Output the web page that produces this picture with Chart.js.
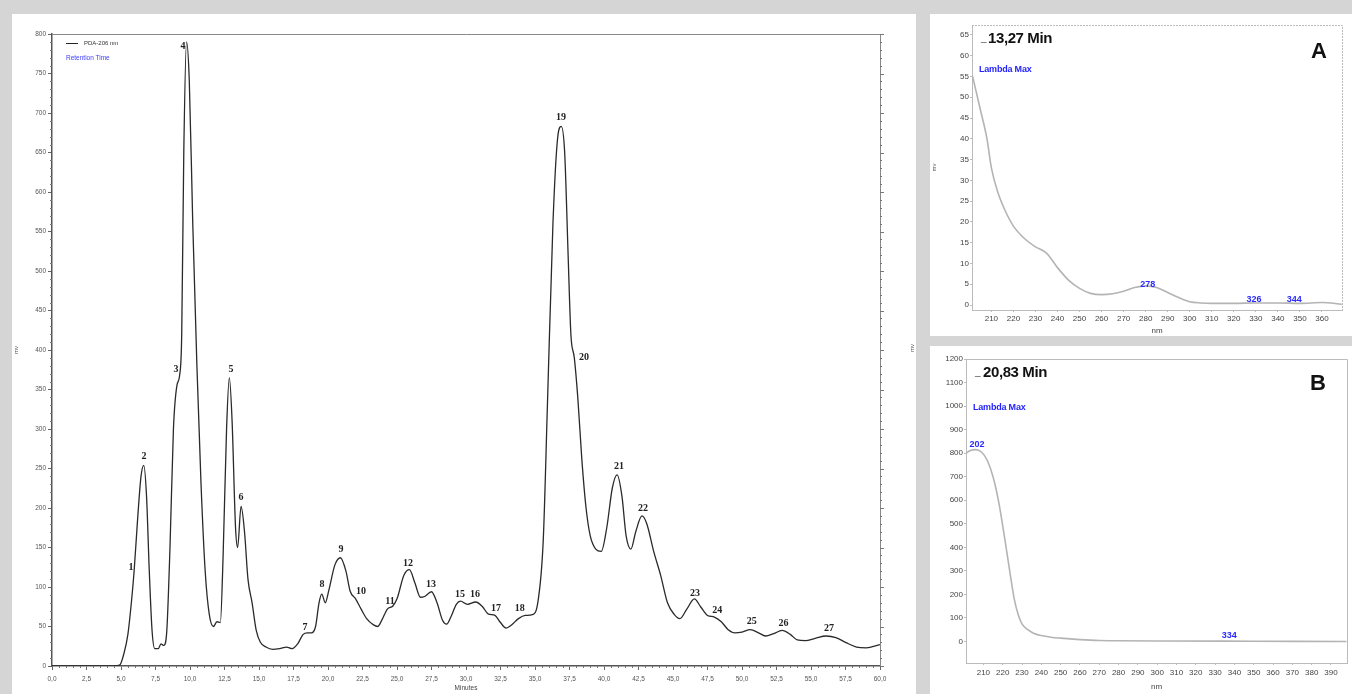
<!DOCTYPE html>
<html>
<head>
<meta charset="utf-8">
<script src="https://cdn.jsdelivr.net/npm/chart.js@4.4.0/dist/chart.umd.min.js"></script>
<style>
  body { margin: 0; width: 1352px; height: 694px; background: #d5d5d5; position: relative; overflow: hidden; font-family: "Liberation Sans", Arial, sans-serif; }
  .panel { position: absolute; background: #fff; }
  #pMain { left: 12px; top: 14px; width: 904px; height: 680px; }
  #pA { left: 930px; top: 14px; width: 422px; height: 322px; }
  #pB { left: 930px; top: 346px; width: 422px; height: 348px; }
  .panel canvas { position: absolute; left: 0; top: 0; }
  .t { position: absolute; white-space: nowrap; line-height: 1; }
  .time { font-weight: bold; font-size: 15px; letter-spacing: -0.4px; color: #111; }
  .lam { font-weight: bold; font-size: 9px; color: #2424ff; letter-spacing: -0.2px; }
  .big { font-weight: bold; font-size: 22px; color: #111; }
</style>
</head>
<body>
<div class="panel" id="pMain"><canvas id="main" width="904" height="680"></canvas></div>
<div class="panel" id="pA"><canvas id="specA" width="422" height="322"></canvas></div>
<div class="panel" id="pB"><canvas id="specB" width="422" height="348"></canvas></div>

<!-- legend of the chromatogram -->
<div class="t" style="left:66px;top:43px;width:12px;height:1px;background:#222"></div>
<div class="t" style="left:84px;top:40px;font-size:6px;color:#333">PDA-206 nm</div>
<div class="t" style="left:66px;top:55px;font-size:6.5px;color:#3c3cff">Retention Time</div>
<div class="t" style="left:908px;top:345px;font-size:6px;color:#555;transform:rotate(-90deg)">mv</div>

<!-- spectrum headers -->
<div class="t" style="left:981px;top:33px;font-size:10px;color:#555">_</div>
<div class="t time" style="left:988px;top:30px">13,27 Min</div>
<div class="t lam" style="left:979px;top:65px">Lambda Max</div>
<div class="t big" style="left:1311px;top:40px">A</div>

<div class="t" style="left:975px;top:367px;font-size:10px;color:#555">_</div>
<div class="t time" style="left:983px;top:364px">20,83 Min</div>
<div class="t lam" style="left:973px;top:403px">Lambda Max</div>
<div class="t big" style="left:1310px;top:372px">B</div>

<script>
// chromatogram, PDA 206 nm
const minutes = [0, 4.5, 4.9, 5.2, 5.5, 5.75, 5.95, 6.2, 6.45, 6.65, 6.85, 7.05, 7.25, 7.45, 7.7, 7.9, 8.1,
  8.3, 8.55, 8.8, 9.05, 9.25, 9.4, 9.55, 9.75, 9.95, 10.2, 10.5, 10.8, 11.1, 11.4, 11.7, 11.95, 12.2,
  12.4, 12.65, 12.85, 13.05, 13.3, 13.45, 13.7, 13.95, 14.2, 14.5, 14.8, 15.1, 15.5, 16.0, 16.5, 17.0,
  17.4, 17.8, 18.2, 18.5, 18.8, 19.1, 19.35, 19.55, 19.8, 20.05, 20.5, 20.9, 21.3, 21.6, 22.0, 22.4,
  22.8, 23.3, 23.6, 23.9, 24.3, 24.7, 25.0, 25.5, 25.9, 26.3, 26.7, 27.0, 27.5, 27.9, 28.3, 28.6, 28.9,
  29.3, 29.6, 30.1, 30.7, 31.2, 31.6, 32.1, 32.5, 32.9, 33.3, 33.8, 34.3, 34.8, 35.2, 35.6, 35.9, 36.3,
  36.65, 36.9, 37.15, 37.4, 37.6, 37.85, 38.1, 38.4, 38.7, 39.0, 39.4, 39.8, 40.2, 40.6, 40.95, 41.3,
  41.6, 41.95, 42.3, 42.75, 43.1, 43.6, 44.1, 44.6, 45.1, 45.5, 46.0, 46.55, 47.0, 47.5, 48.0, 48.5,
  49.0, 49.5, 50.0, 50.6, 51.2, 51.7, 52.3, 52.9, 53.5, 54.0, 54.6, 55.3, 56.1, 56.8, 57.5, 58.3, 59.0, 60];
const signal = [0, 0, 1, 15, 40, 80, 120, 185, 240, 254, 215, 120, 45, 22, 22, 28, 26,
  40, 150, 300, 355, 368, 420, 650, 790, 740, 560, 380, 230, 120, 65, 50, 56, 55,
  140, 300, 365, 310, 175, 150, 202, 170, 110, 80, 45, 30, 24, 21, 22, 24,
  22, 28, 40, 42, 42, 50, 80, 91, 80, 95, 128, 137, 120, 95, 85, 72,
  60, 52, 50, 58, 72, 76, 85, 115, 122, 105, 87, 88, 94, 80, 58, 53, 62,
  78, 82, 78, 81, 75, 66, 64, 55, 48, 52, 60, 64, 65, 80, 160, 330, 560,
  670, 683, 650, 520, 420, 390, 340, 260, 200, 165, 148, 145, 175, 225, 242, 215,
  165, 148, 170, 190, 180, 145, 115, 80, 65, 60, 72, 85, 75, 64, 62, 56,
  46, 42, 43, 46, 42, 38, 41, 45, 40, 33, 32, 35, 38, 36, 30, 24, 23, 27];

// peak numbers, placed at (minutes, mv)
const peakNames = ['1', '2', '3', '4', '5', '6', '7', '8', '9', '10', '11', '12', '13', '15', '16', '17', '18',
  '19', '20', '21', '22', '23', '24', '25', '26', '27'];
const peakT = [5.72, 6.67, 8.99, 9.49, 12.97, 13.7, 18.33, 19.57, 20.94, 22.39, 24.49, 25.8, 27.46, 29.57,
  30.65, 32.17, 33.9, 36.88, 38.55, 41.09, 42.83, 46.6, 48.2, 50.7, 53.0, 56.3];
const peakV = [125, 265, 375, 784, 375, 214, 49, 103, 148, 95, 82, 130, 103, 91, 90, 73, 73, 695, 391,
  252, 199, 92, 70, 56, 54, 48];

// UV spectrum A, 13,27 min
const nmA = [201.5, 205, 208, 210, 213, 216, 220, 225, 230, 235, 240, 245, 250, 255, 260, 265, 270, 275,
  280, 285, 290, 295, 300, 305, 310, 320, 330, 340, 350, 360, 369];
const mvA = [55, 47, 40, 33, 27, 23, 19, 16, 14, 12.5, 9, 6, 4, 2.8, 2.5, 2.7, 3.3, 4.2, 4.6, 4.2, 3, 1.8,
  0.8, 0.5, 0.4, 0.4, 0.5, 0.5, 0.4, 0.6, 0.2];
const lambdaA = ['278', '326', '344'];
const lambdaANm = [281, 329.2, 347.4];
const lambdaAMv = [5.05, 1.4, 1.4];
const nmTicksA = [210, 220, 230, 240, 250, 260, 270, 280, 290, 300, 310, 320, 330, 340, 350, 360];
const mvTicksA = [0, 5, 10, 15, 20, 25, 30, 35, 40, 45, 50, 55, 60, 65];

// UV spectrum B, 20,83 min
const nmB = [201, 203, 206, 209, 212, 215, 218, 221, 224, 226, 228, 230, 233, 236, 240, 245, 250, 260,
  270, 280, 300, 350, 398];
const mvB = [800, 810, 815, 805, 770, 700, 590, 440, 280, 180, 115, 75, 50, 35, 25, 18, 14, 8, 4, 3, 2, 1, 0];
const lambdaB = ['202', '334'];
const lambdaBNm = [206.7, 337.3];
const lambdaBMv = [837, 24];
const nmTicksB = [210, 220, 230, 240, 250, 260, 270, 280, 290, 300, 310, 320, 330, 340, 350, 360, 370, 380, 390];
const mvTicksB = [0, 100, 200, 300, 400, 500, 600, 700, 800, 900, 1000, 1100, 1200];

const toPts = (xs, ys) => xs.map((x, i) => ({ x, y: ys[i] }));

const textLabels = {
  id: 'textLabels',
  afterDatasetsDraw(chart, args, o) {
    const { ctx, scales: { x, y } } = chart;
    ctx.save();
    ctx.font = o.font;
    ctx.fillStyle = o.color;
    ctx.textAlign = 'center';
    ctx.textBaseline = 'middle';
    o.names.forEach((n, i) => ctx.fillText(n, x.getPixelForValue(o.xs[i]), y.getPixelForValue(o.ys[i])));
    ctx.restore();
  }
};

// frame + minor ticks of the chromatogram
const frame = {
  id: 'frame',
  afterDraw(chart, args, o) {
    const { ctx, chartArea: a, scales: { x, y } } = chart;
    ctx.save();
    ctx.strokeStyle = o.color;
    ctx.lineWidth = 1;
    if (o.dash) ctx.setLineDash(o.dash);
    ctx.beginPath();
    ctx.moveTo(a.left, a.top + 0.5); ctx.lineTo(a.right + 0.5, a.top + 0.5); ctx.lineTo(a.right + 0.5, a.bottom);
    ctx.stroke();
    ctx.setLineDash([]);
    if (o.minor) {
      ctx.strokeStyle = '#777';
      ctx.beginPath();
      for (let v = y.min; v <= y.max; v += 10) {
        const py = Math.round(y.getPixelForValue(v)) + 0.5;
        const major = v % 50 === 0;
        if (!major) { ctx.moveTo(a.left - 2, py); ctx.lineTo(a.left, py); }
        ctx.moveTo(a.right, py); ctx.lineTo(a.right + (major ? 4 : 2), py);
      }
      for (let t = x.min; t <= x.max; t += 0.5) {
        if (Math.abs(t / 2.5 - Math.round(t / 2.5)) < 1e-6) continue;
        const px = Math.round(x.getPixelForValue(t)) + 0.5;
        ctx.moveTo(px, a.bottom); ctx.lineTo(px, a.bottom + 2);
      }
      ctx.stroke();
    }
    ctx.restore();
  }
};

new Chart(document.getElementById('main'), {
  type: 'line',
  data: { datasets: [{ data: toPts(minutes, signal), borderColor: '#2a2a2a', borderWidth: 1.3, pointRadius: 0, cubicInterpolationMode: 'monotone' }] },
  options: {
    responsive: false, animation: false, events: [],
    layout: { padding: { top: 20, right: 36, left: 0, bottom: 0 } },
    plugins: {
      legend: { display: false }, tooltip: { enabled: false },
      textLabels: { names: peakNames, xs: peakT, ys: peakV, font: 'bold 10px "Liberation Serif", serif', color: '#222' },
      frame: { color: '#888', minor: true }
    },
    scales: {
      x: {
        type: 'linear', min: 0, max: 60,
        afterFit: (s) => { s.height = 28; },
        ticks: { stepSize: 2.5, padding: 5, maxRotation: 0, autoSkip: false, color: '#555', font: { size: 6.5 },
          callback: (v) => v.toFixed(1).replace('.', ',') },
        grid: { drawOnChartArea: false, tickLength: 4, color: '#666' },
        border: { color: '#555', width: 1.5 },
        title: { display: true, text: 'Minutes', color: '#444', font: { size: 6.5 }, padding: { top: 0, bottom: 2 } }
      },
      y: {
        min: 0, max: 800,
        afterFit: (s) => { s.width = 40; },
        ticks: { stepSize: 50, padding: 2, autoSkip: false, color: '#555', font: { size: 6.5 } },
        grid: { drawOnChartArea: false, tickLength: 4, color: '#666' },
        border: { color: '#555', width: 1.5 },
        title: { display: true, text: 'mv', color: '#555', font: { size: 6 }, padding: 1 }
      }
    }
  },
  plugins: [textLabels, frame]
});

function spectrum(id, nm, mv, names, lx, ly, xTicks, yTicks, cfg) {
  new Chart(document.getElementById(id), {
    type: 'line',
    data: { datasets: [{ data: toPts(nm, mv), borderColor: '#b4b4b4', borderWidth: 1.6, pointRadius: 0, cubicInterpolationMode: 'monotone' }] },
    options: {
      responsive: false, animation: false, events: [],
      layout: { padding: { top: cfg.top, right: cfg.right, left: 0, bottom: 0 } },
      plugins: {
        legend: { display: false }, tooltip: { enabled: false },
        textLabels: { names, xs: lx, ys: ly, font: 'bold 9px "Liberation Sans", Arial, sans-serif', color: '#2a2aff' },
        frame: { color: '#bbb', dash: cfg.dash, minor: false }
      },
      scales: {
        x: {
          type: 'linear', min: cfg.xmin, max: cfg.xmax,
          afterFit: (s) => { s.height = cfg.xh; },
          afterBuildTicks: (s) => { s.ticks = xTicks.map((value) => ({ value })); },
          ticks: { padding: cfg.xpad, maxRotation: 0, autoSkip: false, color: '#444', font: { size: 8 }, callback: (v) => String(v) },
          grid: { drawOnChartArea: false, tickLength: 2, color: '#bbb' },
          border: { color: '#bbb', width: 1, dash: cfg.dash },
          title: { display: true, text: 'nm', color: '#444', font: { size: 8 }, padding: { top: 0, bottom: cfg.tpad } }
        },
        y: {
          min: cfg.ymin, max: cfg.ymax,
          afterFit: (s) => { s.width = cfg.yw; },
          afterBuildTicks: (s) => { s.ticks = yTicks.map((value) => ({ value })); },
          ticks: { padding: 1, autoSkip: false, color: '#444', font: { size: 8 }, callback: (v) => String(v) },
          grid: { drawOnChartArea: false, tickLength: 2, color: '#bbb' },
          border: { color: '#bbb', width: 1, dash: cfg.dash },
          title: { display: cfg.ytitle, text: 'mv', color: '#555', font: { size: 6 }, padding: 1 }
        }
      }
    },
    plugins: [textLabels, frame]
  });
}

spectrum('specA', nmA, mvA, lambdaA, lambdaANm, lambdaAMv, nmTicksA, mvTicksA,
  { top: 11, right: 10, xh: 26, yw: 42, xmin: 201.2, xmax: 369.1, ymin: -1.2, ymax: 67.4, xpad: 2, tpad: 0, dash: [2, 1], ytitle: true });
spectrum('specB', nmB, mvB, lambdaB, lambdaBNm, lambdaBMv, nmTicksB, mvTicksB,
  { top: 13, right: 5, xh: 31, yw: 36, xmin: 201, xmax: 398.3, ymin: -91.5, ymax: 1200, xpad: 3, tpad: 2, dash: null, ytitle: false });
</script>
</body>
</html>
